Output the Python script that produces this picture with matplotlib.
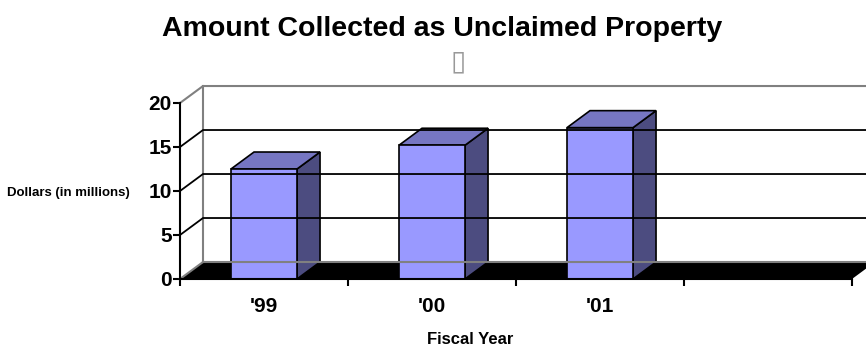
import matplotlib
matplotlib.use("Agg")
import matplotlib.pyplot as plt
from matplotlib.patches import Polygon

plt.rcParams['font.family'] = ['Liberation Sans', 'DejaVu Sans']

# data
years = ["'99", "'00", "'01"]
amounts = [12.5, 15.2, 17.2]
y_ticks = [0, 5, 10, 15, 20]
n_slots = 4          # Excel left one empty category slot on the right

# 3D look (data units)
DX, DY = 0.137, 1.93
BAR_W = 0.393
FRONT = '#9999ff'
TOP = '#7676c2'
SIDE = '#4c4c80'
GRAY = '#808080'

W, H = 866, 354
fig = plt.figure(figsize=(W / 100, H / 100), dpi=100)
# front plane: x 180 px .. right edge, y 279 px (0) .. 87 px (back wall top)
ax = fig.add_axes([180 / W, 1 - 279 / H, (W - 180) / W, 192 / H])
ax.set_xlim(-0.5, -0.5 + (W - 180) / 168)
ax.set_ylim(0, 192 / 8.8)
ax.patch.set_visible(False)

x0, x1 = -0.5, n_slots - 0.5
top = y_ticks[-1]

# walls
ax.plot([x0 + DX, x0 + DX], [DY, top + DY], color=GRAY, lw=1.5, clip_on=False)
ax.plot([x0, x0 + DX, x1 + DX + 1], [top, top + DY, top + DY], color=GRAY, lw=1.5, clip_on=False)
for v in y_ticks[1:-1]:
    ax.plot([x0, x0 + DX, x1 + DX + 1], [v, v + DY, v + DY], color='black', lw=1.3, clip_on=False)

# floor
ax.add_patch(Polygon([[x0, 0], [x1, 0], [x1 + DX, DY], [x0 + DX, DY]],
                     closed=True, facecolor='black', edgecolor='none', clip_on=False))
ax.plot([x0 + DX, x1 + DX + 1], [DY, DY], color=GRAY, lw=1.5, clip_on=False)
ax.plot([x0, x0 + DX], [0, DY], color=GRAY, lw=1.5, clip_on=False)

# bars
for i, v in enumerate(amounts):
    l, r = i - BAR_W / 2, i + BAR_W / 2
    ax.add_patch(Polygon([[r, 0], [r + DX, DY], [r + DX, v + DY], [r, v]],
                         facecolor=SIDE, edgecolor='black', lw=1.2, clip_on=False))
    ax.add_patch(Polygon([[l, v], [r, v], [r + DX, v + DY], [l + DX, v + DY]],
                         facecolor=TOP, edgecolor='black', lw=1.2, clip_on=False))
    ax.add_patch(Polygon([[l, 0], [r, 0], [r, v], [l, v]],
                         facecolor=FRONT, edgecolor='black', lw=1.2, clip_on=False))

# axes
for s in ['top', 'right']:
    ax.spines[s].set_visible(False)
ax.spines['left'].set_bounds(0, top)
ax.spines['bottom'].set_bounds(x0, x1)
for s in ['left', 'bottom']:
    ax.spines[s].set_linewidth(1.5)
ax.set_yticks(y_ticks)
ax.set_yticklabels([str(t) for t in y_ticks], fontsize=15, fontweight='bold')
ax.tick_params(axis='y', direction='out', length=5, width=1.5, pad=1)
ax.set_xticks(range(len(years)))
ax.set_xticklabels(years, fontsize=15, fontweight='bold')
ax.set_xticks([x0 + k for k in range(n_slots + 1)], minor=True)
ax.tick_params(axis='x', which='major', length=0, pad=13)
ax.tick_params(axis='x', which='minor', direction='out', length=5, width=1.5)

fig.text(442 / W, 1 - 29 / H, 'Amount Collected as Unclaimed Property',
         ha='center', va='center', fontsize=20.5, fontweight='bold')
fig.text(458 / W, 1 - 61 / H, '\u25af', ha='center', va='center',
         fontsize=20, color='#999999', family=['DejaVu Sans'])
fig.text(68 / W, 1 - 193 / H, 'Dollars (in millions)', ha='center', va='center',
         fontsize=9.5, fontweight='bold')
fig.text(470 / W, 1 - 340 / H, 'Fiscal Year', ha='center', va='center',
         fontsize=12, fontweight='bold')

fig.savefig('out.png', dpi=100)
